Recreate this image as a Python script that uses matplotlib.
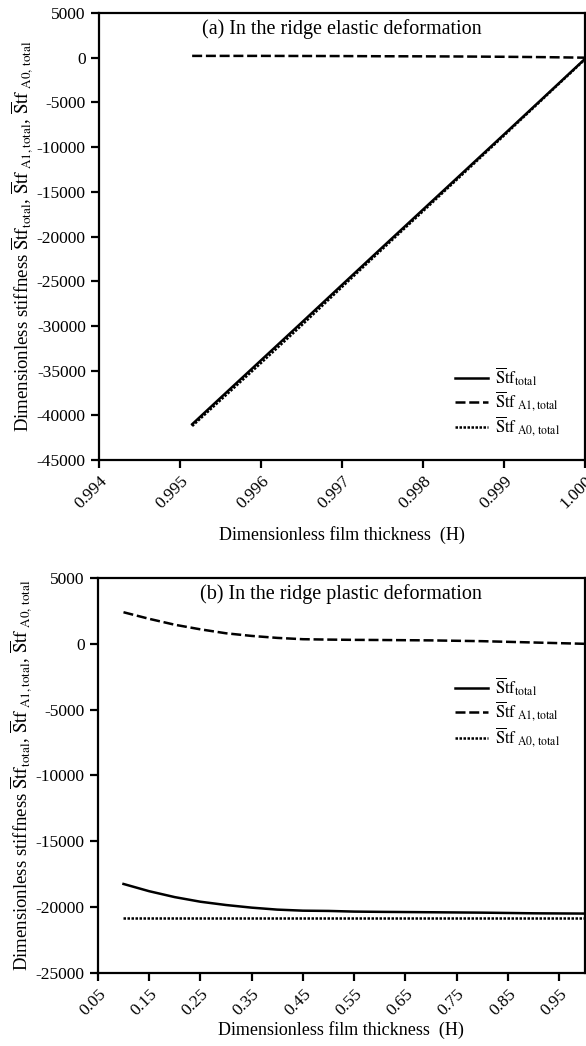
import matplotlib.pyplot as plt

plt.rcParams['font.family'] = ['Liberation Serif', 'DejaVu Serif']
plt.rcParams['mathtext.fontset'] = 'stix'
plt.rcParams['axes.unicode_minus'] = False

# (a) elastic deformation of the ridge
h_el = [0.99515, 0.9955, 0.996, 0.9965, 0.997, 0.9975, 0.998, 0.9985, 0.999, 0.9995, 1.0]
stf_total_el = [-41000, -38050, -33850, -29650, -25420, -21200, -17000, -12800, -8600, -4380, -150]
stf_a1_el = [200, 200, 200, 190, 180, 160, 150, 130, 100, 60, 0]
stf_a0_el = [-41200, -38300, -34150, -29950, -25650, -21400, -17180, -12950, -8720, -4450, -200]

# (b) plastic deformation of the ridge
h_pl = [0.1, 0.15, 0.2, 0.25, 0.3, 0.35, 0.4, 0.45, 0.5, 0.55, 0.6, 0.7, 0.8, 0.9, 1.0]
stf_total_pl = [-18250, -18800, -19250, -19600, -19850, -20050, -20200, -20280, -20300,
                -20350, -20370, -20400, -20430, -20480, -20500]
stf_a1_pl = [2400, 1900, 1450, 1100, 800, 600, 450, 350, 320, 300, 290, 260, 200, 100, 0]
stf_a0_pl = [-20800] * len(h_pl)

ticks_el = [0.994, 0.995, 0.996, 0.997, 0.998, 0.999, 1.000]
ticks_pl = [0.05, 0.15, 0.25, 0.35, 0.45, 0.55, 0.65, 0.75, 0.85, 0.95]

lab_total = r'$\overline{\mathrm{S}}\mathrm{tf}_{\mathrm{total}}$'
lab_a1 = r'$\overline{\mathrm{S}}\mathrm{tf}_{\ \mathrm{A1,total}}$'
lab_a0 = r'$\overline{\mathrm{S}}\mathrm{tf}_{\ \mathrm{A0,\,total}}$'
ylab = (r'Dimensionless stiffness $\overline{\mathrm{S}}\mathrm{tf}_{\mathrm{total}}$, '
        r'$\overline{\mathrm{S}}\mathrm{tf}_{\ \mathrm{A1,total}}$, '
        r'$\overline{\mathrm{S}}\mathrm{tf}_{\ \mathrm{A0,\,total}}$')

fig = plt.figure(figsize=(5.86, 10.46), dpi=100)
ax1 = fig.add_axes([0.169, 0.5602, 0.829, 0.4274])
ax2 = fig.add_axes([0.167, 0.0700, 0.831, 0.3774])


def style(ax, pad):
    for s in ax.spines.values():
        s.set_linewidth(1.6)
    ax.tick_params(direction='out', length=6, width=1.6, labelsize=12.5)
    for lab in ax.get_xticklabels():
        lab.set_rotation(45)
        lab.set_ha('right')
        lab.set_rotation_mode('anchor')
    ax.set_xlabel('Dimensionless film thickness  (H)', fontsize=13, labelpad=pad)
    ax.set_ylabel(ylab, fontsize=13.5, labelpad=1)


ax1.plot(h_el, stf_total_el, color='black', lw=1.8, label=lab_total)
ax1.plot(h_el, stf_a1_el, color='black', lw=1.8, ls=(0, (4, 1.5)), label=lab_a1)
ax1.plot(h_el, stf_a0_el, color='black', lw=1.8, ls=(0, (1, 0.6)), label=lab_a0)
ax1.set_xlim(0.994, 1.0)
ax1.set_ylim(-45000, 5000)
ax1.set_xticks(ticks_el)
ax1.set_xticklabels(['%.3f' % t for t in ticks_el])
ax1.set_yticks(range(-45000, 5001, 5000))
style(ax1, 10)
ax1.text(0.5, 0.965, '(a) In the ridge elastic deformation', transform=ax1.transAxes,
         ha='center', va='center', fontsize=14.5)
ax1.legend(loc='upper right', bbox_to_anchor=(0.98, 0.245), frameon=False, fontsize=12,
           handlelength=2.0, handletextpad=0.4, labelspacing=0.1)

ax2.plot(h_pl, stf_total_pl, color='black', lw=1.8, label=lab_total)
ax2.plot(h_pl, stf_a1_pl, color='black', lw=1.8, ls=(0, (4, 1.5)), label=lab_a1)
ax2.plot(h_pl, stf_a0_pl, color='black', lw=1.8, ls=(0, (1, 0.6)), label=lab_a0)
ax2.set_xlim(0.05, 1.0)
ax2.set_ylim(-25000, 5000)
ax2.set_xticks(ticks_pl)
ax2.set_xticklabels(['%.2f' % t for t in ticks_pl])
ax2.set_yticks(range(-25000, 5001, 5000))
style(ax2, 2)
ax2.text(0.5, 0.96, '(b) In the ridge plastic deformation', transform=ax2.transAxes,
         ha='center', va='center', fontsize=14.5)
ax2.legend(loc='upper right', bbox_to_anchor=(0.98, 0.79), frameon=False, fontsize=12,
           handlelength=2.0, handletextpad=0.4, labelspacing=0.1)

fig.savefig('out.png', dpi=100)
